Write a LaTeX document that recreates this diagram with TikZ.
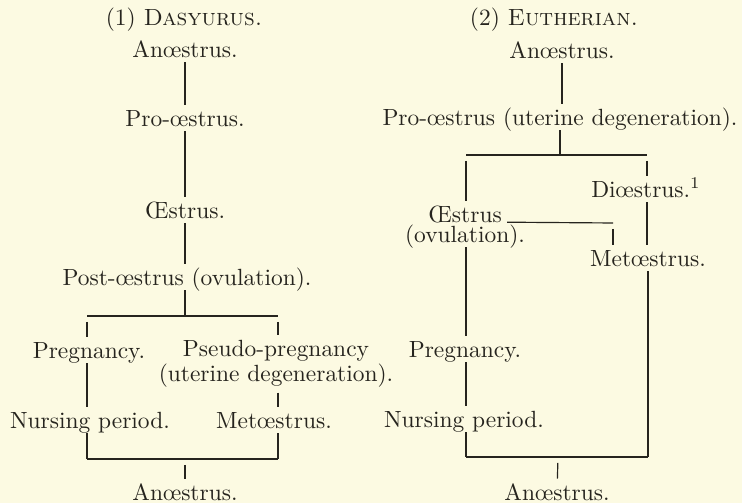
\documentclass[tikz,border=0pt]{standalone}
\definecolor{paper}{RGB}{252,250,226}
\definecolor{ink}{RGB}{38,36,30}
\begin{document}
\begin{tikzpicture}[x=0.15mm,y=-0.15mm,line width=0.5pt]
  \tikzset{every node/.style={text=ink,inner xsep=2pt,inner ysep=2pt,text height=7pt,text depth=0pt},
    twoline/.style={align=center,text height={},text depth={},font=\fontsize{10pt}{9.4pt}\selectfont},
    gap/.style={shorten <=2.5pt}}
  \fill[paper] (0,0) rectangle (742,503);
  \useasboundingbox (0,0) rectangle (742,503);

  % (1) Dasyurus
  \node (ltitle) at (184,17)  {(1) \textsc{Dasyurus.}};
  \node (lan1)   at (185,49)  {An\oe strus.};
  \node (lpro)   at (185,118) {Pro-\oe strus.};
  \node (loes)   at (185,210) {\OE strus.};
  \node (lpost)  at (187,277) {Post-\oe strus (ovulation).};
  \node (lpreg)  at (89,350)  {Pregnancy.};
  \node (lpseu)  at (276,364) [twoline] {Pseudo-pregnancy\\(uterine degeneration).};
  \node (lnur)   at (90,420)  {Nursing period.};
  \node (lmet)   at (274,420) {Met\oe strus.};
  \node (lan2)   at (185,492) {An\oe strus.};
  \coordinate (lsplit)  at (185,316);
  \coordinate (lsplitw) at (87,316);
  \coordinate (lsplite) at (278,316);
  \coordinate (lbot)    at (185,459);
  \coordinate (lbotw)   at (87,459);
  \coordinate (lbote)   at (278,459);

  % (2) Eutherian
  \node (rtitle) at (554,17)  {(2) \textsc{Eutherian.}};
  \node (ran1)   at (562,50)  {An\oe strus.};
  \node (rpro)   at (560,117) {Pro-\oe strus (uterine degeneration).};
  \node (rdio)   at (646,189) {Di\oe strus.\textsuperscript{1}};
  \node (roes)   at (465,214) {\OE strus};
  \node (rovu)   at (465,234) {(ovulation).};
  \node (rmet)   at (648,258) {Met\oe strus.};
  \node (rpreg)  at (465,349) {Pregnancy.};
  \node (rnur)   at (464,419) {Nursing period.};
  \node (ran2)   at (557,492) {An\oe strus.};
  \coordinate (rsplit)  at (560,155);
  \coordinate (rsplitw) at (466,155);
  \coordinate (rsplite) at (647,155);
  \coordinate (rjoin)   at (613,223);
  \coordinate (rbot)    at (558,457);
  \coordinate (rbotw)   at (466,457);
  \coordinate (rbote)   at (648,457);

  \path[-,draw=ink]
    (lan1) edge (lpro)
    (lpro) edge (loes)
    (loes) edge (loes.south |- lpost.north)
    (lpost.south -| lsplit) edge (lsplit)
    (lsplitw) edge (lsplite)
    (lsplitw) edge[gap] (lsplitw |- lpreg.north)
    (lsplite) edge[gap] (lsplite |- lpseu.north)
    (lpseu.south -| lsplite) edge (lsplite |- lmet.north)
    (lpreg.south -| lsplitw) edge (lsplitw |- lnur.north)
    (lnur.south -| lbotw) edge (lbotw)
    (lmet.south -| lbote) edge (lbote)
    (lbotw) edge (lbote)
    (lbot) edge[gap] (lan2);

  \path[-,draw=ink]
    (ran1) edge (ran1 |- rpro.north)
    (rpro.south -| rsplit) edge (rsplit)
    (rsplitw) edge (rsplite)
    (rsplitw) edge[gap] (rsplitw |- roes.north)
    (rsplite) edge[gap] (rsplite |- rdio.north)
    (rdio.south -| rsplite) edge (rsplite |- rmet.north)
    (roes.base east) edge (rjoin)
    (rjoin) edge[gap] (rjoin |- rmet.north)
    (rovu.south -| rsplitw) edge (rsplitw |- rpreg.north)
    (rpreg.south -| rsplitw) edge (rsplitw |- rnur.north)
    (rnur.south -| rbotw) edge (rbotw)
    (rmet.south -| rbote) edge (rbote)
    (rbotw) edge (rbote)
    (rbot) edge[gap] (ran2);
\end{tikzpicture}
\end{document}
